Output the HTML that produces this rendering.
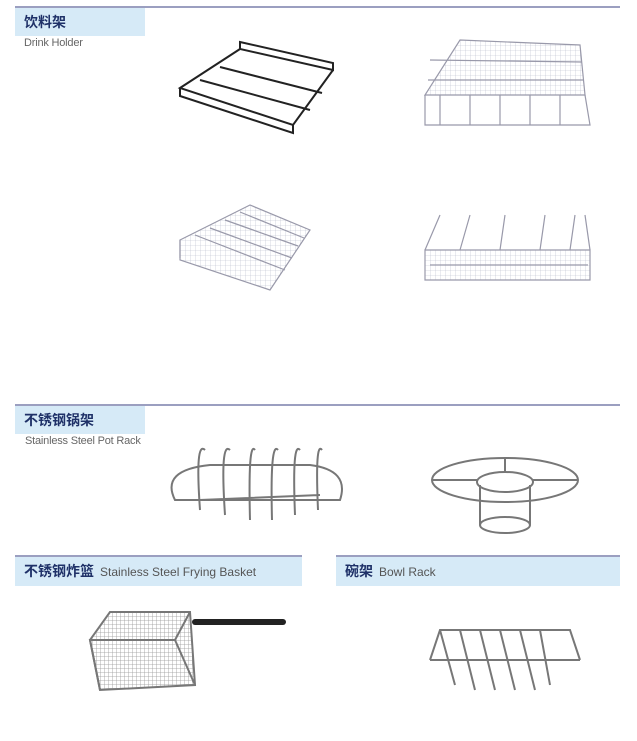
<!DOCTYPE html>
<html><head><meta charset="utf-8"><style>
body{margin:0;width:637px;height:741px;background:#fff;position:relative;overflow:hidden;font-family:"Liberation Sans","Noto Sans CJK SC",sans-serif}
.ln{position:absolute;height:2px;background:#9b9fc0}
.hb{position:absolute;background:#d6eaf7;color:#1f3168;font-weight:bold;font-size:14px;line-height:28px;padding-left:9px;box-sizing:border-box}
.hb span{font-weight:normal;color:#555;font-size:12px;margin-left:6px}
.sub{position:absolute;color:#666;font-size:11px;letter-spacing:-0.2px}
svg{position:absolute;left:0;top:0}
</style></head><body>
<div class="ln" style="left:15px;top:6px;width:605px"></div>
<div class="hb" style="left:15px;top:8px;width:130px;height:28px">饮料架</div>
<div class="sub" style="left:24px;top:37px">Drink Holder</div>
<div class="ln" style="left:15px;top:404px;width:605px"></div>
<div class="hb" style="left:15px;top:406px;width:130px;height:28px">不锈钢锅架</div>
<div class="sub" style="left:25px;top:435px">Stainless Steel Pot Rack</div>
<div class="ln" style="left:15px;top:555px;width:287px"></div>
<div class="hb" style="left:15px;top:557px;width:287px;height:29px">不锈钢炸篮<span>Stainless Steel Frying Basket</span></div>
<div class="ln" style="left:336px;top:555px;width:284px"></div>
<div class="hb" style="left:336px;top:557px;width:284px;height:29px">碗架<span>Bowl Rack</span></div>
<svg width="637" height="741" fill="none">
<defs>
<pattern id="m" width="4" height="4" patternUnits="userSpaceOnUse"><path d="M0 0H4M0 0V4" stroke="#999" stroke-width="0.8"/></pattern>
<pattern id="h" width="5" height="5" patternUnits="userSpaceOnUse"><path d="M0 0H5M0 0V5" stroke="#b8bccc" stroke-width="0.6"/></pattern>
</defs>
<g stroke="#222" stroke-width="2">
<path d="M240 42 L333 63 L333 70 L240 49 Z"/><path d="M240 49 L180 88 L293 125 L333 70"/><path d="M180 88 L180 96 L293 133 L293 125"/><path d="M200 80 L310 110 M220 67 L322 93"/>
</g>
<g stroke="#99a" stroke-width="1.2">
<path d="M460 40 L580 45 L585 95 L425 95 Z" fill="url(#h)"/>
<path d="M425 95 L425 125 L590 125 L585 95 M430 60 L582 62 M428 80 L584 80 M440 95 L440 125 M470 95 L470 125 M500 95 L500 125 M530 95 L530 125 M560 95 L560 125"/>
<path d="M180 240 L250 205 L310 230 L270 290 L180 260 Z" fill="url(#h)"/>
<path d="M195 235 L285 270 M210 228 L292 258 M225 220 L298 246 M240 212 L304 238 M180 240 L180 258"/>
<path d="M425 250 L590 250 L590 280 L425 280 Z" fill="url(#h)"/>
<path d="M425 250 L440 215 M590 250 L585 215 M460 250 L470 215 M500 250 L505 215 M540 250 L545 215 M570 250 L575 215 M430 265 L588 265"/>
</g>
<g stroke="#777" stroke-width="2">
<path d="M175 500 Q160 470 210 465 L310 465 Q350 470 340 500 Z"/>
<path d="M200 510 Q195 440 205 450 M225 515 Q220 440 230 450 M250 520 Q248 440 255 450 M272 520 Q270 440 278 450 M295 515 Q292 440 300 450 M318 510 Q315 440 322 450 M200 500 L320 495"/>
<ellipse cx="505" cy="480" rx="73" ry="22"/><ellipse cx="505" cy="482" rx="28" ry="10"/><path d="M432 480 L477 480 M533 480 L578 480 M505 458 L505 472 M480 485 L480 525 M530 485 L530 525"/><ellipse cx="505" cy="525" rx="25" ry="8"/>
<path d="M90 640 L110 612 L190 612 L195 685 L100 690 Z" fill="url(#m)"/>
<path d="M100 690 L90 640 L175 640 L195 685 M175 640 L190 612"/>
<path d="M430 660 L440 630 L570 630 L580 660 M440 630 L455 685 M460 630 L475 690 M480 630 L495 690 M500 630 L515 690 M520 630 L535 690 M540 630 L550 685 M430 660 L580 660"/>
</g>
<path d="M195 622 L283 622" stroke="#222" stroke-width="6" stroke-linecap="round"/>
</svg>
</body></html>
